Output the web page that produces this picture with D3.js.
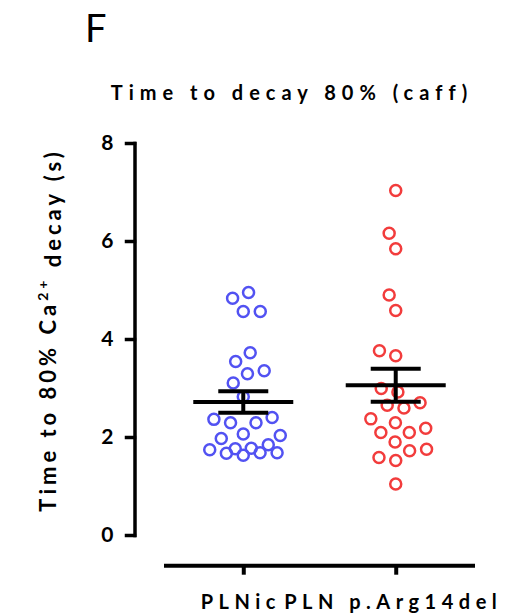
<!DOCTYPE html>
<html lang="en">
<head>
<meta charset="utf-8">
<title>Time to decay 80% (caff)</title>
<style>
  body { margin: 0; background: #fff; }
  svg text { font-family: Lato, "Open Sans", sans-serif; font-weight: bold; fill: #000; }
  .dot { fill: none; stroke-width: 2.5; }
  .axis path, .axis line { stroke: #000; }
</style>
</head>
<body>
<div id="chart"></div>
<script src="https://cdn.jsdelivr.net/npm/d3@7/dist/d3.min.js"></script>
<script>
// data (seconds)
var categories = ['PLNic', 'PLN p.Arg14del'];
var colors = ['#5252f2', '#f23c3c'];
var plnic = [4.95, 4.83, 4.56, 4.56, 3.72, 3.54, 3.35, 3.29, 3.10, 2.82, 2.36, 2.29, 2.29,
             2.40, 1.97, 2.06, 2.03, 1.77, 1.74, 1.68, 1.63, 1.67, 1.68, 1.76, 1.84];
var arg14del = [7.03, 6.16, 5.84, 4.90, 4.58, 3.76, 3.66, 2.99, 2.92, 2.65, 2.70, 2.59,
                2.37, 2.29, 2.18, 2.09, 2.09, 1.90, 1.75, 1.72, 1.58, 1.52, 1.04];
var yTicks = [0, 2, 4, 6, 8];
var series = [plnic, arg14del];

var width = 515, height = 616;

var svg = d3.select('#chart')
    .append('svg')
    .attr('width', width)
    .attr('height', height);

var y = d3.scaleLinear().domain([0, 8]).range([535, 143]);
var x = d3.scalePoint().domain(categories).range([164, 475]).padding(0.52);

// greedy beeswarm, lowest values first, nearest free spot to the centre;
// the column width is capped, so crowded rows get squeezed (overlap allowed)
function swarm(values, cx, d, maxOff) {
    var order = d3.range(values.length).sort((a, b) => values[a] - values[b]);
    var placed = [];
    var out = new Array(values.length);
    order.forEach((i) => {
        var cy = y(values[i]);
        var blocked = [];
        placed.forEach((p) => {
            var dy = Math.abs(p.y - cy);
            if (dy < d) {
                var dx = Math.sqrt(d * d - dy * dy);
                blocked.push([p.x - dx, p.x + dx]);
            }
        });
        var cands = [cx];
        blocked.forEach((b) => { cands.push(b[0], b[1]); });
        cands = cands.filter((c) => Math.abs(c - cx) <= maxOff + 1e-6);
        cands.sort((a, b) => Math.abs(a - cx) - Math.abs(b - cx));
        var px = cands.find((c) => blocked.every((b) => c <= b[0] + 1e-6 || c >= b[1] - 1e-6));
        if (px === undefined) {
            // no free spot inside the column: take the least crowded one
            var best = -1;
            d3.range(-maxOff, maxOff + 0.5, 1).forEach((o) => {
                var c = cx + o;
                var dmin = d3.min(placed, (p) => Math.hypot(p.x - c, p.y - cy));
                if (dmin > best + 1e-6) { best = dmin; px = c; }
            });
        }
        var pt = { x: px, y: cy };
        placed.push(pt);
        out[i] = pt;
    });
    return out;
}

// panel letter
svg.append('text')
    .attr('x', 85).attr('y', 42)
    .style('font-weight', 'normal')
    .style('font-size', '38px')
    .text('F');

// title
svg.append('text')
    .attr('x', 292).attr('y', 100)
    .attr('text-anchor', 'middle')
    .style('font-size', '20px')
    .style('letter-spacing', '6px')
    .text('Time to decay 80% (caff)');

// y label
var yl = svg.append('text')
    .attr('transform', 'translate(56,330) rotate(-90)')
    .attr('text-anchor', 'middle')
    .style('font-size', '22px')
    .style('letter-spacing', '4px');
yl.append('tspan').text('Time to 80% Ca');
yl.append('tspan').attr('dy', '-0.6em').style('font-size', '14px').text('2+');
yl.append('tspan').attr('dy', '0.6em').text(' decay (s)');

// points
series.forEach((vals, k) => {
    var pts = swarm(vals, x(categories[k]), 17, 37);
    svg.append('g')
        .selectAll('circle')
        .data(pts)
        .enter()
        .append('circle')
        .attr('class', 'dot')
        .attr('cx', (d) => d.x)
        .attr('cy', (d) => d.y)
        .attr('r', 5.5)
        .attr('stroke', colors[k]);
});

// mean +- SEM
series.forEach((vals, k) => {
    var cx = x(categories[k]);
    var m = d3.mean(vals);
    var sem = d3.deviation(vals) / Math.sqrt(vals.length);
    var g = svg.append('g').attr('stroke', '#000').attr('stroke-width', 4);
    g.append('line').attr('x1', cx - 50).attr('x2', cx + 50).attr('y1', y(m)).attr('y2', y(m));
    g.append('line').attr('x1', cx).attr('x2', cx).attr('y1', y(m - sem)).attr('y2', y(m + sem));
    g.append('line').attr('x1', cx - 25).attr('x2', cx + 25).attr('y1', y(m + sem)).attr('y2', y(m + sem));
    g.append('line').attr('x1', cx - 25).attr('x2', cx + 25).attr('y1', y(m - sem)).attr('y2', y(m - sem));
});

// axes
var yAxis = d3.axisLeft(y).tickValues(yTicks).tickSize(8).tickSizeOuter(0).tickPadding(13);
var gy = svg.append('g')
    .attr('class', 'axis')
    .attr('transform', 'translate(134.5,0)')
    .call(yAxis);
gy.selectAll('path, line').attr('stroke-width', 3.5).attr('stroke-linecap', 'square');
gy.selectAll('text').style('font-size', '21px').style('font-family', 'Lato, sans-serif');

var xAxis = d3.axisBottom(x).tickSize(9).tickSizeOuter(0);
var gx = svg.append('g')
    .attr('class', 'axis')
    .attr('transform', 'translate(0,565.7)')
    .call(xAxis);
gx.select('.domain').attr('d', 'M164,0H475');
gx.selectAll('path, line').attr('stroke-width', 4);
gx.selectAll('text')
    .attr('y', 43).attr('dy', 0).attr('dx', -3)
    .style('font-size', '20px')
    .style('letter-spacing', '5.5px')
    .style('font-family', 'Lato, sans-serif');
</script>
</body>
</html>
